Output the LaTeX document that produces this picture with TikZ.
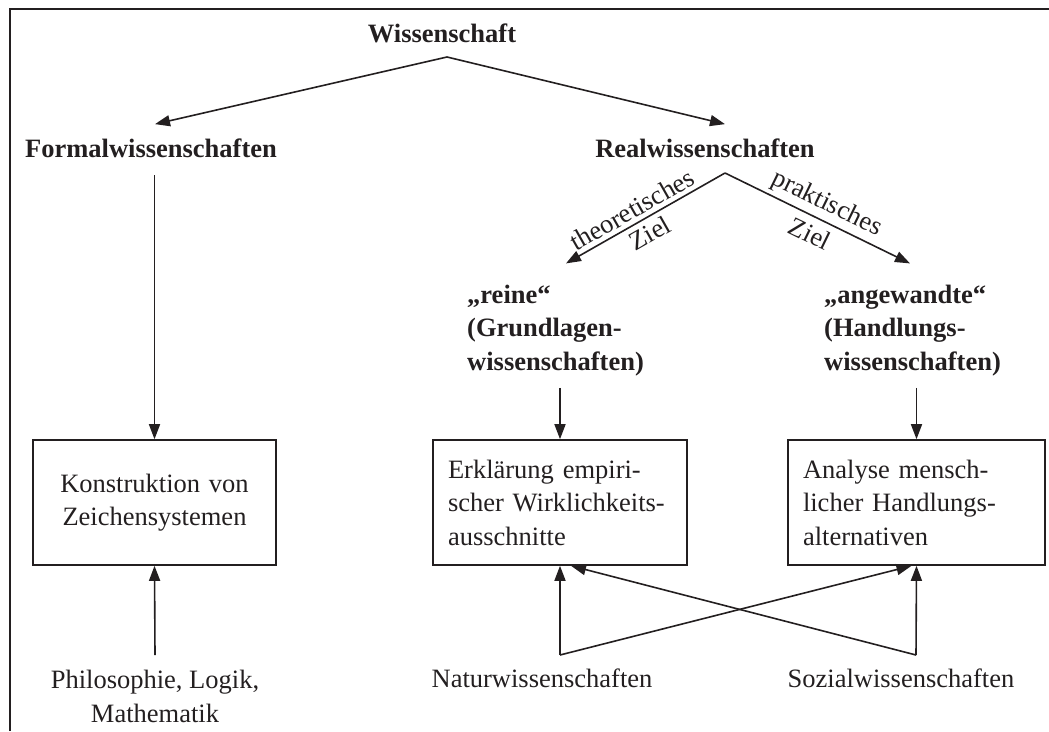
\documentclass[tikz,border=0pt]{standalone}
\usepackage{fontspec}
\setmainfont{Liberation Serif}
\usetikzlibrary{arrows.meta,calc}
\definecolor{ink}{RGB}{35,31,32}
\begin{document}
\begin{tikzpicture}[x=1pt,y=-1pt,
  every node/.style={font=\fontsize{26.5}{33.5}\selectfont, text=ink, inner sep=0pt},
  head/.style={font=\fontsize{26.5}{33.5}\selectfont\bfseries},
  arr/.style={draw=ink, line width=1.6pt, -{Triangle[length=15pt,width=11pt]}},
  boxnode/.style={draw=ink, line width=1.6pt, minimum height=125pt, inner xsep=15pt, inner ysep=0pt},
  lbl/.style={sloped, inner sep=1pt}
]
\useasboundingbox (0,0) rectangle (1049,731);
\draw[draw=ink, line width=2pt] (10,731) -- (10,9) -- (1049,9);

% headings
\node[head, anchor=base] (wiss) at (442,42) {Wissenschaft};
\node[head, anchor=base] (formal) at (151,157) {Formalwissenschaften};
\node[head, anchor=base] (real) at (705,157) {Realwissenschaften};
\node[head, anchor=base west, align=left] (reine) at (467,370) {„reine“\\(Grundlagen-\\wissenschaften)};
\node[head, anchor=base west, align=left] (angew) at (824,370) {„angewandte“\\(Handlungs-\\wissenschaften)};

% boxes
\node[boxnode, text width=213pt, align=center] (box1) at (154.5,502.5) {Konstruktion~von\\Zeichensystemen};
\node[boxnode, text width=224pt, align=left] (box2) at (560,502.5) {Erklärung~empiri-\\scher~Wirklichkeits-\\ausschnitte};
\node[boxnode, text width=227pt, align=left] (box3) at (916.5,502.5) {Analyse~mensch-\\licher~Handlungs-\\alternativen};

% bottom
\node[anchor=base, align=center] (philo) at (155,722) {Philosophie, Logik,\\Mathematik};
\node[anchor=base] (natur) at (542,687) {Naturwissenschaften};
\node[anchor=base] (sozial) at (901,687) {Sozialwissenschaften};

% split points
\coordinate (wsplit) at (447,57);
\coordinate (rsplit) at (725,173);
\coordinate (pfoot) at (155,655);
\coordinate (nfoot) at (560,655);
\coordinate (sfoot) at (916,655);

% connectors
\draw[arr] (wsplit) -- ($(formal.north)+(4,-14)$);
\draw[arr] (wsplit) -- ($(real.north)+(20,-14)$);
\draw[arr] (rsplit) -- node[lbl, above=3pt, pos=0.54]{theoretisches} node[lbl, below=4pt, pos=0.52]{Ziel} ($(reine.north west)+(99,-21)$);
\draw[arr] (rsplit) -- node[lbl, above=3pt, pos=0.51]{praktisches} node[lbl, below=6pt, pos=0.5]{Ziel} ($(angew.north west)+(86,-21)$);
\draw[arr] (formal.south -| box1.north) ++(0,18) -- (box1.north);
\draw[arr] (reine.south -| box2.north) ++(0,12) -- (box2.north);
\draw[arr] (angew.south -| box3.north) ++(0,12) -- (box3.north);
\draw[arr] (pfoot) -- (box1.south);
\draw[arr] (nfoot) -- (box2.south);
\draw[arr] (nfoot) -- ($(box3.south)+(-5,0)$);
\draw[arr] (sfoot) -- (box3.south);
\draw[arr] (sfoot) -- ($(box2.south)+(11,0)$);
\end{tikzpicture}
\end{document}
